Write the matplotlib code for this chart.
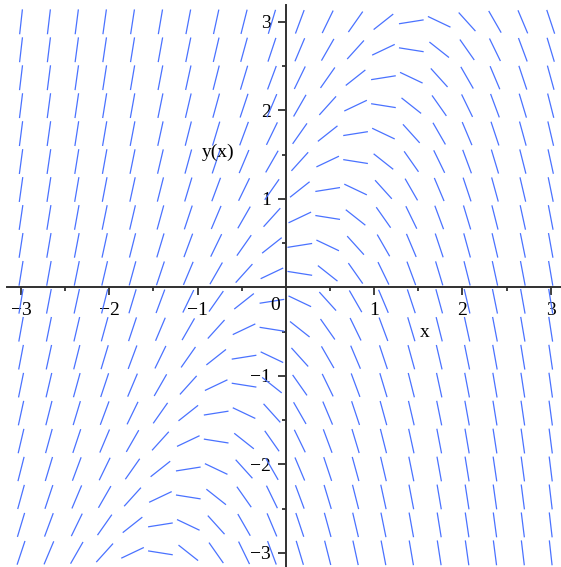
import numpy as np
import matplotlib
matplotlib.use('Agg')
import matplotlib.pyplot as plt
from matplotlib.collections import LineCollection

# direction field of dy/dx = y - 2x on [-3,3]x[-3,3], 20x20 grid
x_range = [-3, 3]
y_range = [-3, 3]
n_grid = [20, 20]
major_ticks = [-3, -2, -1, 1, 2, 3]
minor_ticks = [-2.5, -1.5, -0.5, 0.5, 1.5, 2.5]
seg_len = 0.283
line_color = '#4a72ff'
fsize = 14


def slope(x, y):
    return y - 2 * x


xs = np.linspace(x_range[0], x_range[1], n_grid[0])
ys = np.linspace(y_range[0], y_range[1], n_grid[1])
X, Y = np.meshgrid(xs, ys)
S = slope(X, Y)
norm = np.sqrt(1 + S ** 2)
dx = 0.5 * seg_len / norm
dy = 0.5 * seg_len * S / norm
segs = np.stack([np.stack([X - dx, Y - dy], -1),
                 np.stack([X + dx, Y + dy], -1)], -2).reshape(-1, 2, 2)

plt.rcParams['font.family'] = ['Liberation Serif', 'DejaVu Serif']

fig = plt.figure(figsize=(5.61, 5.67), dpi=100)
ax = fig.add_axes([6.9 / 561, 0.0, (561.3 - 6.9) / 561, 562 / 567])
ax.set_xlim(-3.16, 3.12)
ax.set_ylim(-3.16, 3.19)

ax.add_collection(LineCollection(segs, colors=line_color, linewidths=0.9))

for side in ['top', 'right']:
    ax.spines[side].set_visible(False)
for side in ['left', 'bottom']:
    ax.spines[side].set_position(('data', 0))
    ax.spines[side].set_color('#303030')
    ax.spines[side].set_linewidth(1.4)
    ax.spines[side].set_zorder(0.5)

ax.set_xticks(major_ticks)
ax.set_yticks(major_ticks)
ax.set_xticks(minor_ticks, minor=True)
ax.set_yticks(minor_ticks, minor=True)
ax.set_xticklabels(['\u2212%d' % -t if t < 0 else str(t) for t in major_ticks])
ax.set_yticklabels(['\u2212%d' % -t if t < 0 else str(t) for t in major_ticks])
ax.tick_params(which='major', direction='out', length=5.6, width=1.3,
               color='#303030', labelsize=fsize, pad=5)
ax.tick_params(which='minor', direction='out', length=3, width=1.3,
               color='#303030')

ax.text(-0.12, -0.21, '0', fontsize=fsize, ha='center', va='center')
ax.text(1.576, -0.505, 'x', fontsize=fsize, ha='center', va='center')
ax.text(-0.769, 1.53, 'y(x)', fontsize=fsize, ha='center', va='center')

fig.savefig('out.png', dpi=100)
